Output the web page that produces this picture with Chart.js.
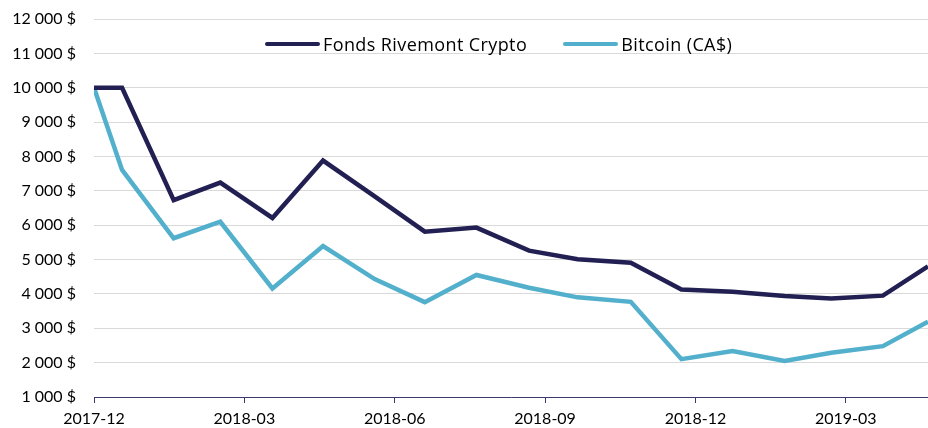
<!DOCTYPE html>
<html>
<head>
<meta charset="utf-8">
<script src="https://cdn.jsdelivr.net/npm/chart.js@4.4.0/dist/chart.umd.min.js"></script>
<style>
  body { margin: 0; background: #fff; }
  #wrap { position: relative; width: 928px; height: 428px; }
  #legend {
    position: absolute; top: 34px; left: 265px; height: 20px;
    display: flex; align-items: center; gap: 36px;
    font-family: "Open Sans", sans-serif; font-size: 18px; letter-spacing: 0.4px;
    color: #000; line-height: 20px;
  }
  .item { display: flex; align-items: center; }
  .swatch { display: inline-block; width: 55px; height: 4px; margin-right: 3px; border-radius: 2px; }
</style>
</head>
<body>
<div id="wrap">
  <canvas id="chart" width="928" height="428"></canvas>
  <div id="legend"></div>
</div>
<script>
const monthPos = [0, 0.56, 1.59, 2.52, 3.56, 4.57, 5.6, 6.6, 7.63, 8.68, 9.65, 10.71, 11.72, 12.74, 13.78, 14.71, 15.74, 16.64];

// value of 10 000 $ invested
const fondsValues = [10000, 10000, 6730, 7240, 6210, 7880, 6840, 5810, 5930, 5260, 5010, 4910, 4130, 4060, 3940, 3870, 3950, 4800];
const bitcoinValues = [10000, 7610, 5620, 6100, 4160, 5390, 4430, 3760, 4550, 4180, 3900, 3770, 2100, 2340, 2050, 2290, 2480, 3190];

const seriesNames = ['Fonds Rivemont Crypto', 'Bitcoin (CA$)'];
const seriesColors = ['#221f52', '#52b0cc'];

const tickMonths = [0, 3, 6, 9, 12, 15];
const tickLabels = ['2017-12', '2018-03', '2018-06', '2018-09', '2018-12', '2019-03'];

function toPoints(values) {
    return values.map((v, i) => ({x: monthPos[i], y: v}));
}

function money(v) {
    return String(v).replace(/\B(?=(\d{3})+(?!\d))/g, ' ') + ' $';
}

const fontFamily = 'Lato, sans-serif';

const chart = new Chart(document.getElementById('chart'), {
    type: 'line',
    data: {
        datasets: [
            {label: seriesNames[0], data: toPoints(fondsValues), borderColor: seriesColors[0], backgroundColor: seriesColors[0]},
            {label: seriesNames[1], data: toPoints(bitcoinValues), borderColor: seriesColors[1], backgroundColor: seriesColors[1]}
        ]
    },
    options: {
        responsive: false,
        animation: false,
        layout: {padding: {top: 19, right: 0, left: 0, bottom: 0}},
        elements: {
            line: {borderWidth: 4.5, tension: 0, borderJoinStyle: 'miter'},
            point: {radius: 0, hoverRadius: 0}
        },
        plugins: {
            legend: {display: false},
            tooltip: {enabled: false}
        },
        scales: {
            x: {
                type: 'linear',
                min: 0,
                max: monthPos[monthPos.length - 1],
                afterBuildTicks: (scale) => {
                    scale.ticks = tickMonths.map(v => ({value: v}));
                },
                afterFit: (scale) => { scale.height = 31; },
                ticks: {
                    autoSkip: false,
                    maxRotation: 0,
                    padding: 6,
                    color: '#000',
                    font: {family: fontFamily, size: 16},
                    callback: (v) => tickLabels[tickMonths.indexOf(v)]
                },
                grid: {drawOnChartArea: false, drawTicks: true, tickLength: 6, color: '#3b3a6e'},
                border: {display: true, color: '#3b3a6e', width: 1}
            },
            y: {
                min: 1000,
                max: 12000,
                afterFit: (scale) => {
                    scale.width = 94;
                    scale.paddingTop = 10;
                    scale.paddingBottom = 0;
                },
                ticks: {
                    stepSize: 1000,
                    padding: 18,
                    color: '#000',
                    font: {family: fontFamily, size: 16},
                    callback: (v) => money(v)
                },
                grid: {color: '#d9d9d9', lineWidth: 1, drawTicks: false},
                border: {display: false}
            }
        }
    }
});

// legend drawn in html over the plot area
const legend = document.getElementById('legend');
chart.data.datasets.forEach(ds => {
    const item = document.createElement('div');
    item.className = 'item';
    item.innerHTML = `<span class="swatch" style="background:${ds.borderColor}"></span><span>${ds.label}</span>`;
    legend.appendChild(item);
});
</script>
</body>
</html>
